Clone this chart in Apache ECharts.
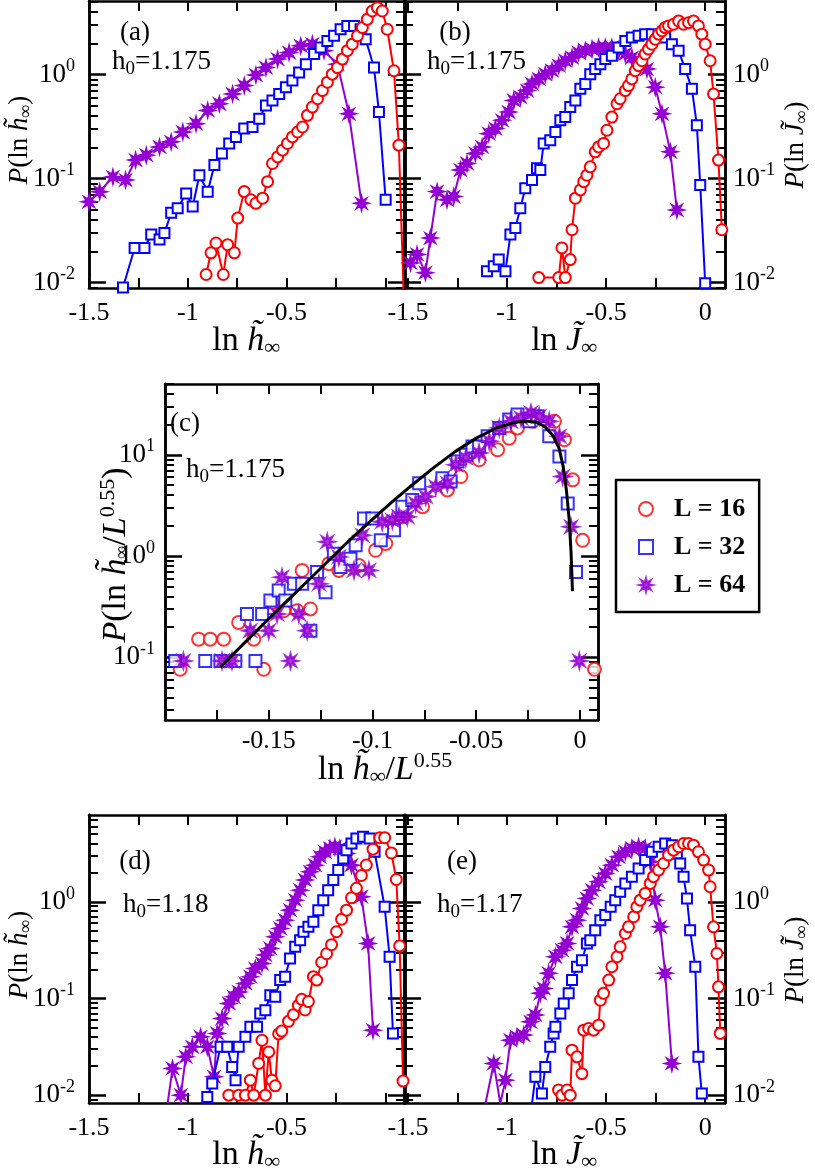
<!DOCTYPE html>
<html><head><meta charset="utf-8">
<script src="https://cdn.jsdelivr.net/npm/echarts@6/dist/echarts.min.js"></script>
<style>html,body{margin:0;padding:0;background:#fff}#c{width:815px;height:1171px}</style>
</head><body><div id="c"></div>
<script>
// ---------- data ----------
const a16 = [[-0.907,0.012],[-0.882,0.0194],[-0.857,0.0241],[-0.820,0.012],[-0.798,0.0232],[-0.764,0.0194],[-0.747,0.0418],[-0.714,0.0751],[-0.680,0.0626],[-0.655,0.058],[-0.621,0.0649],[-0.596,0.0936],[-0.571,0.140],[-0.545,0.162],[-0.520,0.188],[-0.495,0.218],[-0.470,0.252],[-0.444,0.281],[-0.419,0.314],[-0.394,0.406],[-0.369,0.488],[-0.343,0.586],[-0.318,0.703],[-0.293,0.845],[-0.268,1.01],[-0.242,1.17],[-0.217,1.41],[-0.192,1.70],[-0.167,1.96],[-0.141,2.36],[-0.116,2.83],[-0.091,3.40],[-0.066,4.09],[-0.040,4.40],[-0.015,4.09],[0.010,2.73],[0.044,1.09],[0.069,0.210],[0.094,0.0069]];
const a32 = [[-1.328,0.009],[-1.269,0.0216],[-1.219,0.0216],[-1.185,0.029],[-1.143,0.026],[-1.118,0.030],[-1.084,0.047],[-1.051,0.052],[-1.008,0.072],[-0.975,0.054],[-0.941,0.108],[-0.899,0.075],[-0.865,0.135],[-0.827,0.175],[-0.790,0.218],[-0.756,0.252],[-0.714,0.303],[-0.672,0.314],[-0.638,0.377],[-0.604,0.506],[-0.571,0.565],[-0.537,0.653],[-0.503,0.757],[-0.470,0.877],[-0.436,1.05],[-0.402,1.26],[-0.360,1.58],[-0.327,1.82],[-0.293,2.11],[-0.259,2.36],[-0.226,2.73],[-0.192,2.94],[-0.158,2.94],[-0.125,2.73],[-0.099,2.19],[-0.057,1.17],[-0.032,0.437],[0.002,0.0626]];
const a64 = [[-1.5,0.060],[-1.446,0.075],[-1.379,0.104],[-1.315,0.097],[-1.264,0.151],[-1.210,0.168],[-1.143,0.202],[-1.084,0.226],[-1.025,0.281],[-0.958,0.338],[-0.899,0.453],[-0.840,0.525],[-0.773,0.653],[-0.714,0.785],[-0.655,0.99],[-0.604,1.17],[-0.545,1.41],[-0.487,1.63],[-0.428,1.89],[-0.369,1.96],[-0.310,1.70],[-0.242,1.26],[-0.184,0.42],[-0.120,0.058]];
const b16 = [[-0.840,0.0112],[-0.739,0.0112],[-0.723,0.0216],[-0.706,0.0112],[-0.681,0.0167],[-0.672,0.0323],[-0.655,0.0649],[-0.630,0.078],[-0.613,0.0936],[-0.597,0.108],[-0.580,0.130],[-0.555,0.181],[-0.538,0.202],[-0.513,0.218],[-0.496,0.292],[-0.471,0.391],[-0.445,0.525],[-0.429,0.586],[-0.403,0.703],[-0.387,0.785],[-0.370,0.909],[-0.353,1.09],[-0.336,1.22],[-0.319,1.36],[-0.303,1.58],[-0.286,1.76],[-0.269,1.96],[-0.252,2.19],[-0.235,2.45],[-0.218,2.63],[-0.202,2.83],[-0.185,2.94],[-0.160,3.05],[-0.134,3.28],[-0.109,3.05],[-0.084,3.16],[-0.059,3.28],[-0.034,2.94],[-0.017,2.45],[0.000,1.96],[0.025,1.36],[0.042,0.653],[0.067,0.151],[0.084,0.0323]];
const b32 = [[-1.101,0.0129],[-1.067,0.0144],[-1.042,0.0167],[-1.008,0.0129],[-0.983,0.029],[-0.958,0.0335],[-0.933,0.052],[-0.908,0.081],[-0.874,0.097],[-0.849,0.126],[-0.832,0.121],[-0.815,0.218],[-0.782,0.234],[-0.756,0.281],[-0.731,0.364],[-0.706,0.391],[-0.681,0.488],[-0.655,0.565],[-0.630,0.730],[-0.605,0.814],[-0.580,1.01],[-0.555,1.13],[-0.529,1.26],[-0.504,1.41],[-0.471,1.52],[-0.437,1.82],[-0.403,2.11],[-0.370,2.27],[-0.336,2.36],[-0.303,2.45],[-0.269,2.45],[-0.235,2.36],[-0.202,2.27],[-0.168,1.96],[-0.134,1.70],[-0.101,1.13],[-0.067,0.730],[-0.042,0.326],[-0.025,0.087],[0.000,0.0099]];
const b64 = [[-1.487,0.0155],[-1.454,0.0187],[-1.412,0.0125],[-1.387,0.0269],[-1.353,0.0751],[-1.303,0.0626],[-1.269,0.0673],[-1.235,0.121],[-1.202,0.140],[-1.160,0.175],[-1.126,0.202],[-1.092,0.271],[-1.059,0.303],[-1.025,0.364],[-0.992,0.437],[-0.966,0.565],[-0.933,0.607],[-0.899,0.703],[-0.874,0.814],[-0.840,0.909],[-0.807,1.01],[-0.773,1.09],[-0.739,1.22],[-0.706,1.36],[-0.672,1.46],[-0.639,1.63],[-0.605,1.70],[-0.571,1.76],[-0.538,1.82],[-0.504,1.82],[-0.471,1.82],[-0.437,1.70],[-0.403,1.58],[-0.370,1.46],[-0.336,1.31],[-0.294,1.13],[-0.252,0.757],[-0.218,0.42],[-0.176,0.181],[-0.143,0.050]];
const c16 = [[-0.1927,0.076],[-0.1838,0.151],[-0.1782,0.151],[-0.1717,0.151],[-0.1645,0.221],[-0.1572,0.151],[-0.1524,0.076],[-0.1484,0.349],[-0.1428,0.288],[-0.1363,0.288],[-0.1339,0.721],[-0.1299,0.300],[-0.1210,0.84],[-0.1162,0.721],[-0.1065,0.807],[-0.0985,1.14],[-0.0936,1.33],[-0.0856,2.44],[-0.0759,3.07],[-0.0639,4.49],[-0.0574,6.10],[-0.0486,8.92],[-0.0397,11.2],[-0.0341,14.6],[-0.0301,18.4],[-0.0228,21.4],[-0.0123,21.4],[-0.0075,14.1],[-0.0035,5.65],[0.0013,1.43],[0.0070,0.076]];
const c32 = [[-0.1951,0.092],[-0.1806,0.092],[-0.1733,0.092],[-0.1661,0.092],[-0.1564,0.092],[-0.1605,0.267],[-0.1532,0.267],[-0.1492,0.363],[-0.1452,0.456],[-0.1420,0.363],[-0.1379,0.531],[-0.1339,0.531],[-0.1299,0.183],[-0.1267,0.694],[-0.1226,0.438],[-0.1186,1.05],[-0.1154,0.778],[-0.1106,0.94],[-0.1081,1.28],[-0.1041,2.35],[-0.1001,2.35],[-0.0960,1.43],[-0.0896,1.80],[-0.0856,3.07],[-0.0808,3.57],[-0.0775,5.23],[-0.0663,5.87],[-0.0623,5.43],[-0.0590,8.58],[-0.0550,10],[-0.0518,12.1],[-0.0486,12.1],[-0.0445,15.2],[-0.0389,18.4],[-0.0341,22.3],[-0.0301,25.0],[-0.0244,21.4],[-0.0204,24.0],[-0.0148,15.2],[-0.0099,9.6],[-0.0059,3.31],[-0.0019,0.694]];
const c64 = [[-0.1911,0.092],[-0.1725,0.092],[-0.1677,0.092],[-0.1395,0.092],[-0.1589,0.183],[-0.1500,0.183],[-0.1460,0.267],[-0.1436,0.618],[-0.1355,0.267],[-0.1315,0.183],[-0.1258,0.531],[-0.1218,1.38],[-0.1162,0.98],[-0.1089,0.721],[-0.1017,0.721],[-0.1049,1.60],[-0.0953,2.18],[-0.0904,2.25],[-0.0872,2.44],[-0.0832,2.44],[-0.0792,3.31],[-0.0743,3.86],[-0.0695,4.84],[-0.0639,5.23],[-0.0598,7.96],[-0.0550,9.3],[-0.0486,10.4],[-0.0437,13.6],[-0.0389,18.4],[-0.0333,21.4],[-0.0284,23.1],[-0.0236,25.9],[-0.0196,24.0],[-0.0148,21.4],[-0.0099,15.2],[-0.0083,6.1],[-0.0043,1.94],[-0.0003,0.092]];
const cFit = [[-0.1733,0.080],[-0.160,0.150],[-0.150,0.240],[-0.140,0.380],[-0.130,0.600],[-0.120,0.950],[-0.110,1.50],[-0.100,2.30],[-0.090,3.50],[-0.080,5.20],[-0.070,7.60],[-0.060,10.8],[-0.050,14.6],[-0.040,18.5],[-0.032,20.8],[-0.026,21.6],[-0.021,21.0],[-0.017,19.0],[-0.013,15.5],[-0.010,11.5],[-0.008,7.5],[-0.0065,4.4],[-0.0052,2.3],[-0.0043,1.1],[-0.0036,0.45]];
const d16 = [[-0.792,0.010],[-0.742,0.010],[-0.708,0.010],[-0.683,0.0143],[-0.666,0.010],[-0.641,0.0213],[-0.624,0.037],[-0.607,0.010],[-0.590,0.028],[-0.574,0.0143],[-0.557,0.0125],[-0.540,0.043],[-0.524,0.046],[-0.490,0.058],[-0.465,0.068],[-0.440,0.085],[-0.423,0.098],[-0.406,0.076],[-0.389,0.093],[-0.364,0.168],[-0.347,0.155],[-0.322,0.237],[-0.297,0.29],[-0.272,0.36],[-0.247,0.49],[-0.221,0.66],[-0.196,0.82],[-0.171,1.1],[-0.146,1.38],[-0.121,1.87],[-0.096,2.4],[-0.062,3.5],[-0.028,4.6],[-0.003,4.6],[0.031,3.2],[0.056,1.7],[0.073,0.35],[0.090,0.014]];
const d32 = [[-0.901,0.0096],[-0.876,0.0132],[-0.834,0.0316],[-0.800,0.0316],[-0.775,0.0196],[-0.758,0.0143],[-0.742,0.0316],[-0.708,0.0401],[-0.683,0.0509],[-0.649,0.0509],[-0.633,0.070],[-0.607,0.0757],[-0.582,0.108],[-0.557,0.104],[-0.532,0.155],[-0.507,0.168],[-0.482,0.259],[-0.456,0.342],[-0.431,0.401],[-0.414,0.490],[-0.389,0.551],[-0.364,0.621],[-0.339,0.82],[-0.314,1.04],[-0.289,1.32],[-0.263,1.68],[-0.238,2.13],[-0.213,2.81],[-0.196,3.42],[-0.171,4.01],[-0.146,4.52],[-0.112,4.70],[-0.079,4.52],[-0.054,3.29],[-0.003,0.887],[0.022,0.27],[0.039,0.0435]];
const d64 = [[-1.102,0.0082],[-1.077,0.0189],[-1.035,0.0100],[-1.010,0.0249],[-0.977,0.0316],[-0.935,0.0401],[-0.901,0.0316],[-0.867,0.0155],[-0.851,0.0435],[-0.826,0.062],[-0.792,0.0888],[-0.767,0.104],[-0.742,0.117],[-0.708,0.143],[-0.683,0.168],[-0.658,0.204],[-0.624,0.230],[-0.607,0.281],[-0.582,0.329],[-0.557,0.434],[-0.532,0.530],[-0.507,0.646],[-0.482,0.82],[-0.456,1.04],[-0.431,1.32],[-0.406,1.68],[-0.381,2.04],[-0.356,2.39],[-0.331,2.92],[-0.305,3.29],[-0.280,3.56],[-0.255,3.71],[-0.230,3.56],[-0.196,3.16],[-0.171,2.39],[-0.121,1.13],[-0.087,0.371],[-0.062,0.047]];
const e16 = [[-0.740,0.0113],[-0.723,0.0100],[-0.697,0.0113],[-0.681,0.0100],[-0.672,0.0292],[-0.647,0.0249],[-0.622,0.0167],[-0.613,0.047],[-0.588,0.049],[-0.563,0.047],[-0.538,0.053],[-0.529,0.096],[-0.513,0.113],[-0.487,0.155],[-0.471,0.213],[-0.445,0.27],[-0.429,0.342],[-0.403,0.47],[-0.387,0.551],[-0.361,0.70],[-0.345,0.887],[-0.328,1.04],[-0.303,1.22],[-0.277,1.55],[-0.261,1.82],[-0.235,2.13],[-0.210,2.49],[-0.185,3.04],[-0.160,3.42],[-0.134,3.71],[-0.109,4.01],[-0.084,4.01],[-0.059,3.85],[-0.034,3.29],[-0.008,2.70],[0.017,2.13],[0.025,1.43],[0.042,0.551],[0.059,0.292],[0.067,0.132],[0.076,0.0435]];
const e32 = [[-0.874,0.0082],[-0.857,0.0155],[-0.824,0.0104],[-0.807,0.0196],[-0.782,0.0316],[-0.765,0.0435],[-0.756,0.0509],[-0.731,0.070],[-0.714,0.0888],[-0.689,0.113],[-0.672,0.155],[-0.647,0.213],[-0.622,0.249],[-0.597,0.371],[-0.580,0.401],[-0.555,0.509],[-0.529,0.646],[-0.504,0.728],[-0.477,0.887],[-0.454,1.04],[-0.429,1.27],[-0.403,1.55],[-0.370,1.82],[-0.336,2.21],[-0.303,2.70],[-0.269,3.29],[-0.235,3.71],[-0.202,4.01],[-0.168,3.85],[-0.143,3.16],[-0.126,2.49],[-0.109,1.82],[-0.092,1.08],[-0.076,0.509],[-0.050,0.213],[-0.034,0.0249],[-0.017,0.0104]];
const e64 = [[-1.109,0.0082],[-1.067,0.0213],[-1.034,0.0082],[-1.008,0.0143],[-0.983,0.037],[-0.950,0.040],[-0.916,0.0418],[-0.882,0.0574],[-0.857,0.0673],[-0.832,0.113],[-0.815,0.127],[-0.790,0.182],[-0.756,0.27],[-0.723,0.316],[-0.697,0.371],[-0.672,0.551],[-0.647,0.646],[-0.622,0.853],[-0.597,1.08],[-0.571,1.32],[-0.538,1.61],[-0.504,1.96],[-0.471,2.39],[-0.437,2.92],[-0.403,3.29],[-0.370,3.56],[-0.336,3.71],[-0.303,3.56],[-0.277,2.59],[-0.252,1.04],[-0.227,0.551],[-0.202,0.182],[-0.168,0.0213]];
const legendNames = ['L = 16','L = 32','L = 64'];
const xLabelsAD = [-1.5,-1,-0.5];
const xLabelsBE = [-1.5,-1,-0.5,0];
const xLabelsC = [-0.15,-0.1,-0.05,0];

// ---------- styling ----------
const RED='#ff0000', BLUE='#0000ff', PUR='#9400d3';
const SERIF='Liberation Serif';
function starPath(){
  let p=[]; for(let i=0;i<16;i++){const r=i%2?0.42:1; const a=Math.PI*i/8 - Math.PI/2; p.push((50+50*r*Math.cos(a)).toFixed(1)+','+(50+50*r*Math.sin(a)).toFixed(1));}
  return 'path://M'+p.join('L')+'Z';
}
const STAR=starPath();
const grids=[
 {left:89,top:1,width:316,height:287},
 {left:404,top:1,width:321,height:287},
 {left:165,top:384,width:433,height:336},
 {left:89,top:815,width:316,height:288},
 {left:404,top:815,width:321,height:288}
];
const xAxis=[], yAxis=[];
const axLine={onZero:false,lineStyle:{color:'#000',width:2.5}};
function range(a,b,s){const r=[];for(let v=a;v<=b+1e-9;v+=s)r.push(+v.toFixed(4));return r;}
function addX(gi,min,max,ticks,labels,margin){
  const idx=xAxis.length;
  xAxis.push({gridIndex:gi,type:'value',min,max,position:'bottom',offset:0,axisLine:axLine,splitLine:{show:false},
    axisTick:{inside:true,length:10,customValues:ticks,lineStyle:{color:'#000',width:2}},
    axisLabel:{customValues:labels,formatter:v=>String(+(+v).toFixed(3)),fontSize:26,fontFamily:SERIF,color:'#000',margin:margin}});
  xAxis.push({gridIndex:gi,type:'value',min,max,position:'top',offset:0,axisLine:axLine,splitLine:{show:false},
    axisTick:{inside:true,length:10,customValues:ticks,lineStyle:{color:'#000',width:2}},axisLabel:{show:false}});
  return idx;
}
function logTicks(min,max){const maj=[],minr=[];for(let e=-3;e<=2;e++){const b=Math.pow(10,e);if(b>=min&&b<=max)maj.push(b);for(let k=2;k<=9;k++){const v=+(k*b).toPrecision(3);if(v>=min&&v<=max)minr.push(v);}}return {maj,minr};}
function addY(gi,min,max,labelSide,margin){
  const t=logTicks(min,max); const idx=yAxis.length;
  const base={gridIndex:gi,type:'log',logBase:10,min,max,offset:0,axisLine:axLine,splitLine:{show:false}};
  ['left','right'].forEach(side=>{
    yAxis.push(Object.assign({},base,{position:side,
      axisTick:{inside:true,length:17,customValues:t.maj,lineStyle:{color:'#000',width:2.5}},
      axisLabel:{show:side===labelSide,customValues:t.maj,margin:margin,
        formatter:v=>'{b|10}{s|'+Math.round(Math.log10(v))+'}',
        rich:{b:{fontSize:27,fontFamily:SERIF,color:'#000'},s:{fontSize:18,fontFamily:SERIF,color:'#000',padding:[0,0,16,0]}}}}));
    yAxis.push(Object.assign({},base,{position:side,
      axisTick:{inside:true,length:9,customValues:t.minr,lineStyle:{color:'#000',width:2}},axisLabel:{show:false}}));
  });
  return idx;
}
const xa=addX(0,-1.5,0.1,range(-1.5,0,0.25),xLabelsAD,12), ya=addY(0,0.0089,5.1,'left',14);
const xb=addX(1,-1.52,0.1,range(-1.5,0,0.25),xLabelsBE,12), yb=addY(1,0.0089,5.1,'right',8);
const xc=addX(2,-0.2,0.0087,range(-0.2,0,0.025),xLabelsC,8), yc=addY(2,0.024,50,'left',10);
const xd=addX(3,-1.5,0.1,range(-1.5,0,0.25),xLabelsAD,12), yd=addY(3,0.0083,7.9,'left',14);
const xe=addX(4,-1.52,0.1,range(-1.5,0,0.25),xLabelsBE,12), ye=addY(4,0.0083,7.9,'right',8);

const sym={16:{symbol:'emptyCircle',color:RED,size:11},32:{symbol:'emptyRect',color:BLUE,size:10},64:{symbol:STAR,color:PUR,size:13}};
function lineSeries(data,L,xi,yi,name){
  const s=sym[L];
  return {type:'line',name,data,xAxisIndex:xi,yAxisIndex:yi,symbol:s.symbol,symbolSize:s.size,showSymbol:true,
    lineStyle:{color:s.color,width:2},itemStyle:{color:s.color,borderColor:s.color,borderWidth:2},
    clip:true,animation:false,z:L===16?5:(L===32?4:3)};
}
function scatterSeries(data,L,xi,yi,name){
  const s=sym[L];
  return {type:'scatter',name,data,xAxisIndex:xi,yAxisIndex:yi,symbol:s.symbol,symbolSize:s.size+2,
    itemStyle:{color:s.color,borderColor:s.color,borderWidth:2},animation:false};
}
const series=[
  scatterSeries(c16,16,xc,yc,legendNames[0]),
  scatterSeries(c32,32,xc,yc,legendNames[1]),
  scatterSeries(c64,64,xc,yc,legendNames[2]),
  {type:'line',name:'fit',data:cFit,xAxisIndex:xc,yAxisIndex:yc,smooth:false,showSymbol:false,symbol:'none',lineStyle:{color:'#000',width:3},animation:false,z:6},
  lineSeries(a64,64,xa,ya,'a64'),lineSeries(a32,32,xa,ya,'a32'),lineSeries(a16,16,xa,ya,'a16'),
  lineSeries(b64,64,xb,yb,'b64'),lineSeries(b32,32,xb,yb,'b32'),lineSeries(b16,16,xb,yb,'b16'),
  lineSeries(d64,64,xd,yd,'d64'),lineSeries(d32,32,xd,yd,'d32'),lineSeries(d16,16,xd,yd,'d16'),
  lineSeries(e64,64,xe,ye,'e64'),lineSeries(e32,32,xe,ye,'e32'),lineSeries(e16,16,xe,ye,'e16')
];
const richT={n:{fontSize:34,fontFamily:SERIF,color:'#000'},i:{fontSize:34,fontFamily:SERIF,fontStyle:'italic',color:'#000'},
  s:{fontSize:22,fontFamily:SERIF,fontStyle:'italic',color:'#000',padding:[14,0,0,0]},
  sm:{fontSize:27,fontFamily:SERIF,color:'#000'},sub:{fontSize:19,fontFamily:SERIF,color:'#000',padding:[14,0,0,0]},
  up:{fontSize:22,fontFamily:SERIF,color:'#000',padding:[0,0,18,0]},
  yn:{fontSize:27,fontFamily:SERIF,color:'#000'},yi:{fontSize:27,fontFamily:SERIF,fontStyle:'italic',color:'#000'},
  ys:{fontSize:18,fontFamily:SERIF,fontStyle:'italic',color:'#000',padding:[12,0,0,0]},
  yu:{fontSize:22,fontFamily:SERIF,color:'#000',padding:[0,0,16,0]},
  cn:{fontSize:34,fontFamily:SERIF,color:'#000'},ci:{fontSize:34,fontFamily:SERIF,fontStyle:'italic',color:'#000'}};
function txt(x,y,text,rot,align){return {type:'text',x,y,rotation:rot||0,style:{text,rich:richT,align:align||'center',verticalAlign:'middle',fill:'#000'}};}
const hT='h\u0303', JT='J\u0303';
const graphic=[
  txt(246,341,'{n|ln }{i|'+hT+'}{s|∞}'),
  txt(564,341,'{n|ln }{i|'+JT+'}{s|∞}'),
  txt(385,770,'{n|ln }{i|'+hT+'}{s|∞}{n|/}{i|L}{up|0.55}'),
  txt(246,1155,'{n|ln }{i|'+hT+'}{s|∞}'),
  txt(564,1155,'{n|ln }{i|'+JT+'}{s|∞}'),
  txt(20,140,'{yi|P}{yn|(ln }{yi|'+hT+'}{ys|∞}{yn|)}',Math.PI/2),
  txt(796,145,'{yi|P}{yn|(ln }{yi|'+JT+'}{ys|∞}{yn|)}',Math.PI/2),
  txt(116,555,'{ci|P}{cn|(ln }{ci|'+hT+'}{ys|∞}{cn|/}{ci|L}{yu|0.55}{cn|)}',Math.PI/2),
  txt(20,955,'{yi|P}{yn|(ln }{yi|'+hT+'}{ys|∞}{yn|)}',Math.PI/2),
  txt(796,960,'{yi|P}{yn|(ln }{yi|'+JT+'}{ys|∞}{yn|)}',Math.PI/2),
  txt(135,33,'{sm|(a)}'),txt(112,62,'{sm|h}{sub|0}{sm|=1.175}',0,'left'),
  txt(455,33,'{sm|(b)}'),txt(427,62,'{sm|h}{sub|0}{sm|=1.175}',0,'left'),
  txt(170,424,'{sm|(c)}',0,'left'),txt(186,470,'{sm|h}{sub|0}{sm|=1.175}',0,'left'),
  txt(135,862,'{sm|(d)}'),txt(123,905,'{sm|h}{sub|0}{sm|=1.18}',0,'left'),
  txt(462,862,'{sm|(e)}'),txt(437,905,'{sm|h}{sub|0}{sm|=1.17}',0,'left')
];
const chart=echarts.init(document.getElementById('c'),null,{renderer:'canvas'});
chart.setOption({backgroundColor:'#fff',animation:false,grid:grids,xAxis,yAxis,series,graphic,
  legend:{data:legendNames,orient:'vertical',left:616,top:480,borderColor:'#000',borderWidth:2.5,
    padding:[16,14,14,22],itemGap:12,itemWidth:14,itemHeight:14,selectedMode:false,
    textStyle:{fontFamily:SERIF,fontSize:26,fontWeight:'bold',color:'#000',padding:[0,0,0,16]}}
});
</script></body></html>
